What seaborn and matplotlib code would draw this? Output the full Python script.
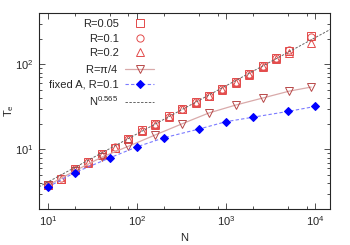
import numpy as np
import seaborn as sns
import matplotlib.pyplot as plt
from matplotlib.ticker import LogLocator, NullFormatter

# data
n_red = [10, 14, 20, 28, 40, 57, 80, 113, 160, 226, 320, 453, 640, 905,
         1280, 1810, 2560, 3620, 5120, 9000]
t_r005 = [3.83, 4.55, 5.85, 7.1, 8.8, 10.5, 13.3, 16.7, 19.7, 24.5, 30.1, 35.6,
          42.7, 51.1, 62.1, 77.0, 96.3, 119, 144, 216]
t_r01 = [3.85, 4.6, 5.9, 7.2, 8.9, 10.6, 13.4, 16.6, 19.9, 24.3, 30.0, 35.9,
         42.4, 51.5, 61.5, 77.5, 95.5, 120, 146, 210]
t_r02 = [3.8, 4.5, 5.8, 7.0, 8.6, 10.4, 13.1, 16.4, 19.5, 24.2, 29.6, 35.0,
         42.0, 50.5, 61.0, 75.5, 94.0, 116, 134, 176]

n_pi4 = [10, 20, 40, 80, 160, 320, 640, 1280, 2560, 5120, 9000]
t_pi4 = [3.8, 5.6, 8.1, 10.9, 14.8, 20.0, 26.8, 33.2, 40.1, 48.4, 54.0]

n_fixA = [10, 20, 50, 100, 200, 500, 1000, 2000, 5000, 10000]
t_fixA = [3.63, 5.35, 8.0, 10.75, 13.7, 17.4, 21.2, 23.9, 28.0, 32.0]

fit_exp = 0.565
fit_coef = 1.13
xlim = (7.9, 14800)
ylim = (2, 400)

sns.set_style("ticks")
plt.rcParams['font.family'] = ['Liberation Sans', 'DejaVu Sans']
plt.rcParams['font.size'] = 8
plt.rcParams['mathtext.fontset'] = 'custom'
plt.rcParams['mathtext.rm'] = 'Liberation Sans'
plt.rcParams['mathtext.it'] = 'Liberation Sans'

fig = plt.figure(figsize=(3.5, 2.45), dpi=100)
ax = fig.add_axes([0.111, 0.147, 0.833, 0.800])

red = '#e34a4a'
common = dict(sort=False, estimator=None, ax=ax)

sns.lineplot(x=n_red, y=t_r005, marker='s', ls='', ms=5.2, mfc='none', mec=red,
             mew=0.7, label='R=0.05', **common)
sns.lineplot(x=n_red, y=t_r01, marker='o', ls='', ms=5.2, mfc='none', mec=red,
             mew=0.7, label='R=0.1', **common)
sns.lineplot(x=n_red, y=t_r02, marker='^', ls='', ms=5.2, mfc='none', mec=red,
             mew=0.7, label='R=0.2', **common)
sns.lineplot(x=n_pi4, y=t_pi4, marker='v', ms=5.5, mfc='none', mec='#b84848',
             mew=0.7, color='#d9aaaa', lw=0.9, label=r'R=$\pi$/4', **common)
sns.lineplot(x=n_fixA, y=t_fixA, marker='D', ms=4, mfc='#0000ff', mec='#0000ff',
             color='#7a7aff', lw=0.8, ls=(0, (3, 2)), label='fixed A, R=0.1',
             **common)
fit_x = np.array(xlim)
sns.lineplot(x=fit_x, y=fit_coef * fit_x ** fit_exp, color='#666666', lw=0.7,
             ls=(0, (2.5, 1.5)), label=r'N$^{0.565}$', **common)

ax.set_xscale('log')
ax.set_yscale('log')
ax.set_xlim(*xlim)
ax.set_ylim(*ylim)
ax.xaxis.set_minor_locator(LogLocator(base=10, subs=(2, 5, 8)))
ax.xaxis.set_minor_formatter(NullFormatter())
ax.yaxis.set_minor_locator(LogLocator(base=10, subs=np.arange(2, 10)))
ax.yaxis.set_minor_formatter(NullFormatter())
ax.tick_params(which='both', direction='in', top=True, right=True,
               labelsize=8, width=0.6, color='#333333')
ax.tick_params(which='major', length=4, pad=4)
ax.tick_params(which='minor', length=2)
for s in ax.spines.values():
    s.set_linewidth(0.8)

ax.set_xlabel('N', labelpad=3)
ax.set_ylabel('T$_e$')
ax.yaxis.set_label_coords(-0.08, 0.5)

# gnuplot-style key: text right-aligned, sample on the right
ax.legend(loc='upper left', bbox_to_anchor=(49 / 350, 1 - 19 / 245),
          bbox_transform=fig.transFigure, frameon=False, markerfirst=False,
          borderpad=0, borderaxespad=0, handlelength=2.6,
          handletextpad=0.6, labelspacing=0.42, fontsize=8)

fig.savefig('out.png', dpi=100)
